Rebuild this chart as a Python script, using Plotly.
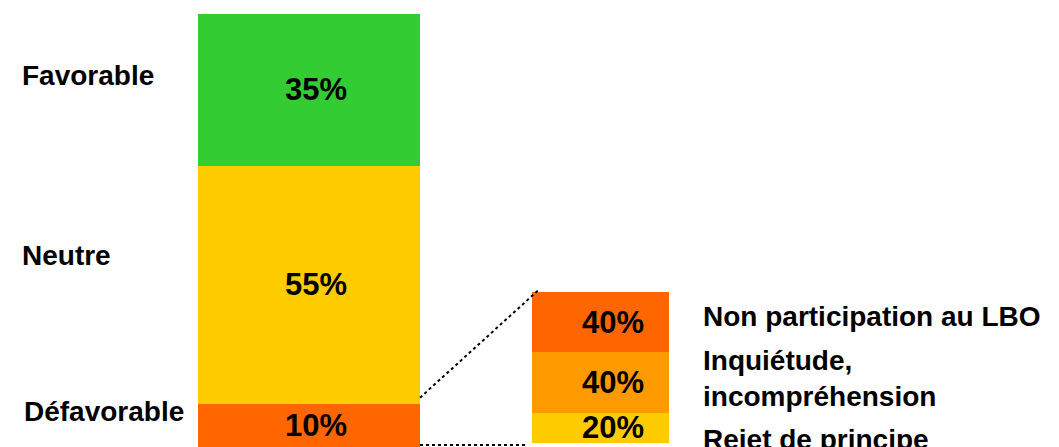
import numpy as np
import plotly.graph_objects as go

# main bar (bottom to top)
main_labels = ["Défavorable", "Neutre", "Favorable"]
main_values = [10, 55, 35]
main_colors = ["#FF6600", "#FFCC00", "#33CC33"]

# breakdown of "Défavorable" (bottom to top)
detail_labels = ["Rejet de principe", "Inquiétude,<br>incompréhension", "Non participation au LBO"]
detail_values = [20, 40, 40]
detail_colors = ["#FFCC00", "#FF9900", "#FF6600"]

W, H = 1059, 447
OFF = 8  # page body margin: the plot div starts 8px in from the corner
FONT = "Liberation Sans, Arial, sans-serif"

# pixel geometry of the two bars (page pixels)
main_x, main_w = 309, 222
det_x, det_w = 600.5, 137
main_top, main_bot = 14, 447     # rows for 100% and 0%
det_top, det_bot = 292, 443


def fx(p):
    return p - OFF


main_scale = (main_bot - main_top) / 100.0
det_scale = (det_bot - det_top) / 100.0
y_range = [-(H - fx(main_bot)) / main_scale, 100 + fx(main_top) / main_scale]
y2_range = [-(H - fx(det_bot)) / det_scale, 100 + fx(det_top) / det_scale]


def px_main(v):
    return main_bot - v * main_scale


def y2_from_px(p):
    return (det_bot - p) / det_scale


def paper(p):
    return 1 - fx(p) / H


fig = go.Figure()

for lab, val, col in zip(main_labels, main_values, main_colors):
    fig.add_trace(go.Bar(x=[fx(main_x)], y=[val], width=[main_w], name=lab,
                         marker=dict(color=col, line=dict(width=0)),
                         yaxis="y", showlegend=False, hoverinfo="skip"))

for lab, val, col in zip(detail_labels, detail_values, detail_colors):
    fig.add_trace(go.Bar(x=[fx(det_x)], y=[val], width=[det_w], name=lab,
                         marker=dict(color=col, line=dict(width=0)),
                         yaxis="y2", showlegend=False, hoverinfo="skip"))

ann = []
# percentages in the bars
cum = np.cumsum([0] + main_values)
for i, val in enumerate(main_values):
    mid = (cum[i] + cum[i + 1]) / 2
    ann.append(dict(x=fx(main_x), y=mid, xref="x", yref="y", text=f"{val}%",
                    xshift=7, showarrow=False,
                    font=dict(family=FONT, size=31, color="black", weight="bold")))
cum2 = np.cumsum([0] + detail_values)
for i, val in enumerate(detail_values):
    mid = (cum2[i] + cum2[i + 1]) / 2
    ann.append(dict(x=fx(det_x), y=mid, xref="x", yref="y2", text=f"{val}%",
                    xshift=12, showarrow=False,
                    font=dict(family=FONT, size=31, color="black", weight="bold")))

# category labels
left_pos = {"Favorable": (20, 75), "Neutre": (20, 255), "Défavorable": (22, 411)}
for lab in main_labels:
    lx, ly = left_pos[lab]
    ann.append(dict(x=fx(lx), y=paper(ly), xref="x", yref="paper", text=lab,
                    xanchor="left", yanchor="middle", showarrow=False,
                    font=dict(family=FONT, size=28, color="black", weight="bold")))

right_pos = {"Non participation au LBO": 316,
             "Inquiétude,<br>incompréhension": 378,
             "Rejet de principe": 439}
for lab in detail_labels:
    ann.append(dict(x=fx(701), y=paper(right_pos[lab]), xref="x", yref="paper", text=lab,
                    xanchor="left", yanchor="middle", align="left", showarrow=False,
                    font=dict(family=FONT, size=28, color="black", weight="bold")))

# dotted connectors from the "Défavorable" segment to the breakdown bar
top_px = px_main(main_values[0]) - 6
shapes = [
    dict(type="line", xref="x", yref="y2",
         x0=fx(main_x + main_w / 2), y0=y2_from_px(top_px),
         x1=fx(det_x - det_w / 2 + 6), y1=100 + 1,
         line=dict(color="black", width=2, dash="dot")),
    dict(type="line", xref="x", yref="y2",
         x0=fx(main_x + main_w / 2), y0=y2_from_px(445),
         x1=fx(det_x - det_w / 2 - 5), y1=y2_from_px(445),
         line=dict(color="black", width=2, dash="dot")),
]

fig.update_layout(
    width=W, height=H,
    margin=dict(l=0, r=0, t=0, b=0),
    paper_bgcolor="white", plot_bgcolor="white",
    barmode="stack", bargap=0,
    xaxis=dict(range=[0, W], visible=False, fixedrange=True),
    yaxis=dict(range=y_range, visible=False, fixedrange=True),
    yaxis2=dict(range=y2_range, visible=False, overlaying="y", fixedrange=True),
    annotations=ann,
    shapes=shapes,
)

fig.write_html("out.html")
